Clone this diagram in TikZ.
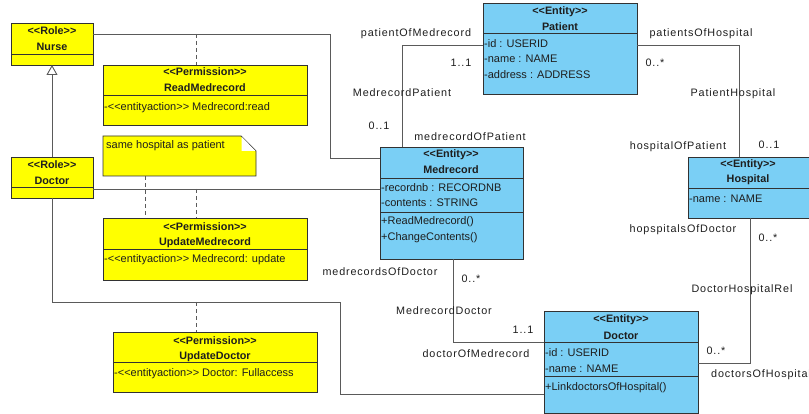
\documentclass[tikz,border=0pt]{standalone}
\usepackage{fontspec}
\setmainfont{Liberation Sans}
\newfontfamily\spacedsans[LetterSpace=8]{Liberation Sans}
\usetikzlibrary{arrows.meta}
\definecolor{roleyellow}{RGB}{255,255,0}
\definecolor{entblue}{RGB}{122,207,245}
\definecolor{boxline}{RGB}{50,50,50}
\definecolor{linkgray}{RGB}{90,90,90}
\definecolor{txtgray}{RGB}{30,30,30}
% stereotype brackets written so that << and >> stay two separate characters
\newcommand\stereo[1]{<{}<#1>{}>}
\begin{document}
\begin{tikzpicture}[x=1pt,y=-1pt,
  font=\fontsize{11}{12}\selectfont,
  box/.style={draw=boxline, line width=0.9pt, inner sep=0pt, outer sep=0pt, anchor=north west},
  rolebox/.style={box, fill=roleyellow},
  entbox/.style={box, fill=entblue},
  divider/.style={draw=boxline, line width=0.9pt},
  title/.style={inner sep=0pt, anchor=base, font=\fontsize{10.8}{12}\selectfont\bfseries, text=txtgray},
  attr/.style={inner sep=0pt, anchor=base west, text=txtgray},
  lbl/.style={inner sep=0pt, anchor=base, text=txtgray, font=\spacedsans\fontsize{10.8}{12}\selectfont},
  link/.style={draw=linkgray, line width=0.9pt},
  dashlink/.style={draw=linkgray, line width=0.9pt, dash pattern=on 4pt off 3pt},
]
\useasboundingbox (0,0) rectangle (809,414);
\fill[white] (0,0) rectangle (809,414);

% ---------- role and permission boxes ----------
\node[rolebox, minimum width=82pt, minimum height=42pt] (nurse) at (11,23) {};
\node[rolebox, minimum width=82pt, minimum height=41pt] (docrole) at (11,157) {};
\node[rolebox, minimum width=204pt, minimum height=60pt] (readperm) at (103,65) {};
\node[rolebox, minimum width=204pt, minimum height=62pt] (updperm) at (103,218) {};
\node[rolebox, minimum width=204pt, minimum height=60pt] (updoc) at (113,332) {};

\path[divider] (nurse.west |- 0,54) -- (nurse.east |- 0,54);
\path[divider] (docrole.west |- 0,187) -- (docrole.east |- 0,187);
\path[divider] (readperm.west |- 0,95) -- (readperm.east |- 0,95);
\path[divider] (updperm.west |- 0,249) -- (updperm.east |- 0,249);
\path[divider] (updoc.west |- 0,362) -- (updoc.east |- 0,362);

\node[title] (nurseS) at (52,35) {\stereo{Role}};
\node[title] (nurseN) at (52,51) {Nurse};
\node[title] (docroleS) at (52,169) {\stereo{Role}};
\node[title] (docroleN) at (52,185) {Doctor};

\node[title] (readS) at (205,76) {\stereo{Permission}};
\node[title] (readN) at (205,92) {ReadMedrecord};
\node[attr] (readA) at (104,111) {-\stereo{entityaction} Medrecord:read};

\node[title] (updS) at (205,231) {\stereo{Permission}};
\node[title] (updN) at (205,246) {UpdateMedrecord};
\node[attr] (updA) at (104,263) {-\stereo{entityaction} Medrecord: update};

\node[title] (updocS) at (215,344) {\stereo{Permission}};
\node[title] (updocN) at (215,359) {UpdateDoctor};
\node[attr] (updocA) at (114,376) {-\stereo{entityaction} Doctor: Fullaccess};

% ---------- note with folded corner ----------
\node[inner sep=0pt, outer sep=0pt, anchor=north west, minimum width=153pt, minimum height=40pt] (note) at (103,136) {};
\filldraw[fill=roleyellow, draw=boxline, line width=0.9pt]
  (note.north west) -- (241,136) -- (256,151) -- (note.south east) -- (note.south west) -- cycle;
\fill[white] (241.5,136.5) -- (241.5,151) -- (255.5,151) -- cycle;
\node[attr] (noteT) at (106,149) {same hospital as patient};

% ---------- entity classes ----------
\node[entbox, minimum width=154pt, minimum height=91pt] (patient) at (483,3) {};
\node[entbox, minimum width=143pt, minimum height=112pt] (medrec) at (380,147) {};
\node[entbox, minimum width=121pt, minimum height=61pt] (hospital) at (688,157) {};
\node[entbox, minimum width=154pt, minimum height=102pt] (doctor) at (544,311) {};

\path[divider] (patient.west |- 0,33) -- (patient.east |- 0,33);
\path[divider] (medrec.west |- 0,178) -- (medrec.east |- 0,178);
\path[divider] (medrec.west |- 0,212) -- (medrec.east |- 0,212);
\path[divider] (hospital.west |- 0,188) -- (hospital.east |- 0,188);
\path[divider] (doctor.west |- 0,342) -- (doctor.east |- 0,342);
\path[divider] (doctor.west |- 0,376) -- (doctor.east |- 0,376);

\node[title] (patS) at (560,15) {\stereo{Entity}};
\node[title] (patN) at (560,31) {Patient};
\node[attr] (patA1) at (484,48) {-id : USERID};
\node[attr] (patA2) at (484,63) {-name : NAME};
\node[attr] (patA3) at (484,79) {-address : ADDRESS};

\node[title] (medS) at (451,158) {\stereo{Entity}};
\node[title] (medN) at (451,174) {Medrecord};
\node[attr] (medA1) at (381,192) {-recordnb : RECORDNB};
\node[attr] (medA2) at (381,207) {-contents : STRING};
\node[attr] (medO1) at (381,225) {+ReadMedrecord()};
\node[attr] (medO2) at (381,241) {+ChangeContents()};

\node[title] (hosS) at (748,168) {\stereo{Entity}};
\node[title] (hosN) at (748,183) {Hospital};
\node[attr] (hosA1) at (689,203) {-name : NAME};

\node[title] (docS) at (621,323) {\stereo{Entity}};
\node[title] (docN) at (621,339) {Doctor};
\node[attr] (docA1) at (545,356) {-id : USERID};
\node[attr] (docA2) at (545,372) {-name : NAME};
\node[attr] (docO1) at (545,390) {+LinkdoctorsOfHospital()};

% ---------- role connectors ----------
\draw[link, -{Triangle[open, length=10pt, width=11pt, fill=white]}] (docrole.north) -- (nurse.south);

\coordinate (nurseBend) at (330,158);
\draw[link] (nurse.east |- 0,34) -| (nurseBend) -- (medrec.west |- nurseBend);
\draw[link] (docrole.east |- 0,189) -- (medrec.west |- 0,189);
\coordinate (docBend1) at (52,302);
\coordinate (docBend2) at (340,302);
\draw[link] (docrole.south) -- (docBend1) -- (docBend2) |- (doctor.west |- 0,394);

% dashed links from permissions to their connectors
\coordinate (readDot) at (196,34);
\draw[dashlink] (readDot) -- (readperm.north -| readDot);
\coordinate (updDot) at (196,189);
\draw[dashlink] (updDot) -- (updperm.north -| updDot);
\draw[dashlink] (note.south -| 145,0) -- (updperm.north -| 145,0);
\coordinate (updocDot) at (196,302);
\draw[dashlink] (updocDot) -- (updoc.north -| updocDot);

% ---------- associations between entities ----------
\coordinate (pmBend) at (402,45);
\draw[link] (patient.west |- pmBend) -- (pmBend) -- (medrec.north -| pmBend);
\coordinate (phBend) at (739,45);
\draw[link] (patient.east |- phBend) -- (phBend) -- (hospital.north -| phBend);
\coordinate (hdBend) at (750,363);
\draw[link] (hospital.south -| hdBend) -- (hdBend) -- (doctor.east |- hdBend);
\coordinate (mdBend) at (453,342);
\draw[link] (medrec.south -| mdBend) -- (mdBend) -- (doctor.west |- mdBend);

% ---------- association labels ----------
\node[lbl] (l1) at (416,37) {patientOfMedrecord};
\node[lbl] (l2) at (461,67) {1..1};
\node[lbl] (l3) at (402,97) {MedrecordPatient};
\node[lbl] (l4) at (379,130) {0..1};
\node[lbl] (l5) at (470,141) {medrecordOfPatient};

\node[lbl] (l6) at (701,37) {patientsOfHospital};
\node[lbl] (l7) at (655,67) {0..*};
\node[lbl] (l8) at (733,97) {PatientHospital};
\node[lbl] (l9) at (678,150) {hospitalOfPatient};
\node[lbl] (l10) at (769,149) {0..1};

\node[lbl] (l11) at (683,233) {hopspitalsOfDoctor};
\node[lbl] (l12) at (768,242) {0..*};
\node[lbl] (l13) at (742,293) {DoctorHospitalRel};
\node[lbl] (l14) at (716,354) {0..*};
\node[lbl, anchor=base west] (l15) at (711,377) {doctorsOfHospital};

\node[lbl] (l16) at (380,276) {medrecordsOfDoctor};
\node[lbl] (l17) at (471,283) {0..*};
\node[lbl] (l18) at (444,314) {MedrecordDoctor};
\node[lbl] (l19) at (523,333) {1..1};
\node[lbl] (l20) at (476,357) {doctorOfMedrecord};
\end{tikzpicture}
\end{document}
